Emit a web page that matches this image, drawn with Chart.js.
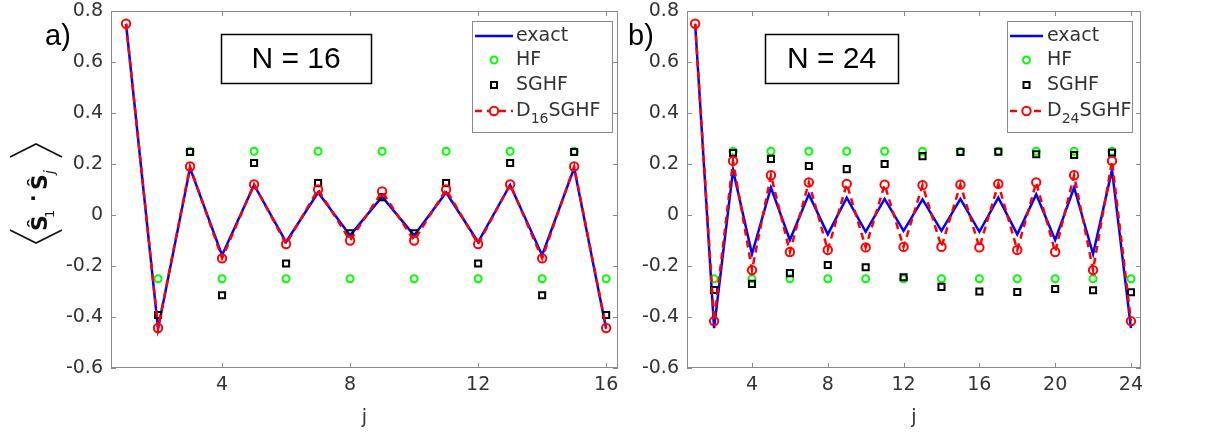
<!DOCTYPE html>
<html><head><meta charset="utf-8">
<script src="https://cdn.jsdelivr.net/npm/chart.js"></script>
<style>
body{margin:0;background:#fff;width:1219px;height:432px;overflow:hidden;position:relative}
canvas{position:absolute;top:0}
</style></head><body>
<canvas id="c1" width="620" height="432" style="left:0"></canvas>
<canvas id="c2" width="599" height="432" style="left:620px"></canvas>
<script>
// ---------- data ----------
const j16 = [1,2,3,4,5,6,7,8,9,10,11,12,13,14,15,16];
const exact16 = [0.75,-0.446,0.184,-0.158,0.118,-0.106,0.088,-0.080,0.072,-0.080,0.088,-0.106,0.118,-0.158,0.184,-0.446];
const hf16    = [null,-0.25,0.25,-0.25,0.25,-0.25,0.25,-0.25,0.25,-0.25,0.25,-0.25,0.25,-0.25,0.25,-0.25];
const sghf16  = [null,-0.392,0.247,-0.315,0.204,-0.190,0.125,-0.072,0.070,-0.072,0.125,-0.190,0.204,-0.315,0.247,-0.392];
const dsghf16 = [0.75,-0.443,0.190,-0.170,0.120,-0.114,0.100,-0.100,0.092,-0.100,0.100,-0.114,0.120,-0.170,0.190,-0.443];

const j24 = [1,2,3,4,5,6,7,8,9,10,11,12,13,14,15,16,17,18,19,20,21,22,23,24];
const exact24 = [0.75,-0.444,0.176,-0.153,0.108,-0.098,0.081,-0.076,0.068,-0.066,0.063,-0.062,0.061,-0.062,0.063,-0.066,0.068,-0.076,0.081,-0.098,0.108,-0.153,0.176,-0.444];
const hf24    = [null,-0.25,0.25,-0.25,0.25,-0.25,0.25,-0.25,0.25,-0.25,0.25,-0.25,0.25,-0.25,0.25,-0.25,0.25,-0.25,0.25,-0.25,0.25,-0.25,0.25,-0.25];
const sghf24  = [null,-0.294,0.243,-0.270,0.220,-0.228,0.192,-0.196,0.180,-0.205,0.200,-0.244,0.231,-0.282,0.247,-0.300,0.248,-0.302,0.238,-0.290,0.235,-0.295,0.244,-0.303];
const dsghf24 = [0.75,-0.416,0.212,-0.216,0.156,-0.145,0.128,-0.137,0.122,-0.127,0.119,-0.125,0.117,-0.125,0.119,-0.127,0.122,-0.137,0.128,-0.145,0.156,-0.216,0.212,-0.416];

const xTicks16 = [4,8,12,16];
const xTicks24 = [4,8,12,16,20,24];
const yTicks = [-0.6,-0.4,-0.2,0,0.2,0.4,0.6,0.8];

// ---------- styling ----------
const TXT = '#333333';
const AX = '#8a8a8a';
const tickFont = {family:'DejaVu Sans', size:19};

function pts(xs, ys){ return xs.map((x,i)=>({x:x, y:ys[i]})); }

function frame(xTicks){
  return {id:'frame', afterDraw(chart){
    const {ctx, chartArea:a, scales} = chart;
    const x = scales.x, y = scales.y;
    ctx.save();
    ctx.strokeStyle = AX; ctx.lineWidth = 1;
    ctx.strokeRect(Math.round(a.left)+0.5, Math.round(a.top)+0.5, Math.round(a.right-a.left)-1, Math.round(a.bottom-a.top)-1);
    ctx.beginPath();
    xTicks.forEach(v=>{
      const px = Math.round(x.getPixelForValue(v))+0.5;
      ctx.moveTo(px, a.bottom); ctx.lineTo(px, a.bottom-5);
      ctx.moveTo(px, a.top); ctx.lineTo(px, a.top+5);
    });
    yTicks.forEach(v=>{
      const py = Math.round(y.getPixelForValue(v))+0.5;
      ctx.moveTo(a.left, py); ctx.lineTo(a.left+5, py);
      ctx.moveTo(a.right, py); ctx.lineTo(a.right-5, py);
    });
    ctx.stroke();
    ctx.restore();
  }};
}

function decor(cfg){
  return {id:'decor', afterDraw(chart){
    const ctx = chart.ctx;
    ctx.save();
    // panel letter
    ctx.fillStyle = '#000';
    ctx.font = '29px "Liberation Sans"';
    ctx.textBaseline = 'alphabetic'; ctx.textAlign = 'left';
    ctx.fillText(cfg.letter, cfg.letterX, 45);
    // N box
    const b = cfg.nbox;
    ctx.fillStyle = '#fff';
    ctx.fillRect(b[0], b[1], b[2]-b[0], b[3]-b[1]);
    ctx.strokeStyle = '#000'; ctx.lineWidth = 1.5;
    ctx.strokeRect(b[0]+0.5, b[1]+0.5, b[2]-b[0], b[3]-b[1]);
    ctx.fillStyle = '#000';
    ctx.font = '30px "Liberation Sans"';
    ctx.textAlign = 'center'; ctx.textBaseline = 'middle';
    ctx.fillText(cfg.ntext, (b[0]+b[2])/2, (b[1]+b[3])/2+1);
    // legend
    const L = cfg.legend;
    ctx.fillStyle = '#fff';
    ctx.fillRect(L.x0, L.y0, L.x1-L.x0, L.y1-L.y0);
    ctx.strokeStyle = AX; ctx.lineWidth = 1;
    ctx.strokeRect(L.x0+0.5, L.y0+0.5, L.x1-L.x0, L.y1-L.y0);
    const rows = [36,60,85,111];
    const sx0 = L.x0+L.s0, sx1 = L.x0+L.s1, mx = (sx0+sx1)/2, tx = L.x0+L.t;
    ctx.strokeStyle = '#0000ff'; ctx.lineWidth = 2.5;
    ctx.beginPath(); ctx.moveTo(sx0, rows[0]); ctx.lineTo(sx1, rows[0]); ctx.stroke();
    ctx.strokeStyle = '#00ff00'; ctx.lineWidth = 2;
    ctx.beginPath(); ctx.arc(mx, rows[1], 3.5, 0, Math.PI*2); ctx.stroke();
    ctx.strokeStyle = '#000'; ctx.lineWidth = 2;
    ctx.strokeRect(mx-3, rows[2]-3, 6, 6);
    ctx.strokeStyle = '#ff0000'; ctx.lineWidth = 2.5;
    ctx.setLineDash([7,5]);
    ctx.beginPath(); ctx.moveTo(sx0, rows[3]); ctx.lineTo(sx1, rows[3]); ctx.stroke();
    ctx.setLineDash([]);
    ctx.lineWidth = 2;
    ctx.fillStyle = '#fff';
    ctx.beginPath(); ctx.arc(mx, rows[3], 4.2, 0, Math.PI*2); ctx.fill(); ctx.stroke();
    ctx.fillStyle = TXT;
    ctx.font = '19px "DejaVu Sans"';
    ctx.textAlign = 'left'; ctx.textBaseline = 'middle';
    ctx.fillText('exact', tx, rows[0]);
    ctx.fillText('HF', tx, rows[1]);
    ctx.fillText('SGHF', tx, rows[2]);
    ctx.fillText('D', tx, rows[3]);
    const wD = ctx.measureText('D').width;
    ctx.font = '14px "DejaVu Sans"';
    ctx.fillText(cfg.sub, tx+wD, rows[3]+8);
    const wS = ctx.measureText(cfg.sub).width;
    ctx.font = '19px "DejaVu Sans"';
    ctx.fillText('SGHF', tx+wD+wS, rows[3]);
    // y label
    if (cfg.ylabel){
      ctx.translate(36, 194);
      ctx.rotate(-Math.PI/2);
      ctx.strokeStyle = '#111'; ctx.lineWidth = 1.6;
      ctx.beginPath(); ctx.moveTo(-36, -26); ctx.lineTo(-49, 0); ctx.lineTo(-36, 26); ctx.stroke();
      ctx.beginPath(); ctx.moveTo(37, -26); ctx.lineTo(50, 0); ctx.lineTo(37, 26); ctx.stroke();
      ctx.fillStyle = '#111';
      ctx.textAlign = 'left'; ctx.textBaseline = 'alphabetic';
      ctx.font = 'bold 22px "DejaVu Sans"';
      ctx.fillText('Ŝ', -37, 11);
      ctx.font = '13px "DejaVu Sans"';
      ctx.fillText('1', -24, 18);
      ctx.font = 'bold 20px "DejaVu Sans"';
      ctx.fillText('·', -8, 4);
      ctx.font = 'bold 22px "DejaVu Sans"';
      ctx.fillText('Ŝ', 4, 11);
      ctx.font = 'italic 14px "DejaVu Sans"';
      ctx.fillText('j', 20, 18);
    }
    ctx.restore();
  }};
}

function makeChart(id, xs, ex, hf, sg, ds, xTicks, xmin, xmax, yW, padR, cfg){
  return new Chart(document.getElementById(id), {
    type: 'line',
    data: { datasets: [
      {label:'D SGHF', data: pts(xs, ds), borderColor:'#ff0000', borderWidth:2.5, borderDash:[7,5],
       pointRadius:4.2, pointBorderWidth:2, pointBorderColor:'#ff0000', pointBackgroundColor:'rgba(0,0,0,0)', order:0},
      {label:'SGHF', data: pts(xs, sg), showLine:false, pointStyle:'rect', pointRadius:4.3, pointBorderWidth:2,
       pointBorderColor:'#000', pointBackgroundColor:'rgba(0,0,0,0)', order:1},
      {label:'HF', data: pts(xs, hf), showLine:false, pointStyle:'circle', pointRadius:3.5, pointBorderWidth:2,
       pointBorderColor:'#00ff00', pointBackgroundColor:'rgba(0,0,0,0)', order:2},
      {label:'exact', data: pts(xs, ex), borderColor:'#0000ff', borderWidth:2.5, pointRadius:0, order:3}
    ]},
    options: {
      responsive:false, animation:false, events:[],
      layout:{autoPadding:false, padding:{left:0, right:padR, top:11, bottom:0}},
      plugins:{legend:{display:false}, tooltip:{enabled:false}},
      elements:{line:{tension:0}},
      scales:{
        x:{type:'linear', min:xmin, max:xmax,
           grid:{display:false, drawTicks:false}, border:{display:false},
           afterBuildTicks: s => { s.ticks = xTicks.map(v=>({value:v})); },
           ticks:{font:tickFont, color:TXT, padding:6, maxRotation:0, autoSkip:false},
           title:{display:true, text:'j', font:{family:'DejaVu Sans', size:19}, color:TXT, padding:{top:0,bottom:3}},
           afterFit: s => { s.height = 64; s.paddingLeft = 0; s.paddingRight = 0; }},
        y:{type:'linear', min:-0.6, max:0.8,
           grid:{display:false, drawTicks:false}, border:{display:false},
           afterBuildTicks: s => { s.ticks = yTicks.map(v=>({value:v})); },
           ticks:{font:tickFont, color:TXT, padding:8,
                  callback: v => (Math.abs(v) < 1e-9 ? '0' : (Math.round(v*10)/10).toFixed(1))},
           afterFit: s => { s.width = yW; s.paddingTop = 0; s.paddingBottom = 0; }}
      }
    },
    plugins:[frame(xTicks), decor(cfg)]
  });
}

makeChart('c1', j16, exact16, hf16, sghf16, dsghf16, xTicks16, 0.53, 16.37, 111, 2,
  {letter:'a)', letterX:45, nbox:[221,34,371,83], ntext:'N = 16',
   legend:{x0:472, y0:21, x1:612, y1:132, s0:3, s1:41, t:44}, sub:'16', ylabel:true});
makeChart('c2', j24, exact24, hf24, sghf24, dsghf24, xTicks24, 0.57, 24.53, 67, 78,
  {letter:'b)', letterX:8, nbox:[145,34,278,83], ntext:'N = 24',
   legend:{x0:387, y0:21, x1:512, y1:132, s0:3, s1:36, t:40}, sub:'24', ylabel:false});
</script>
</body></html>
